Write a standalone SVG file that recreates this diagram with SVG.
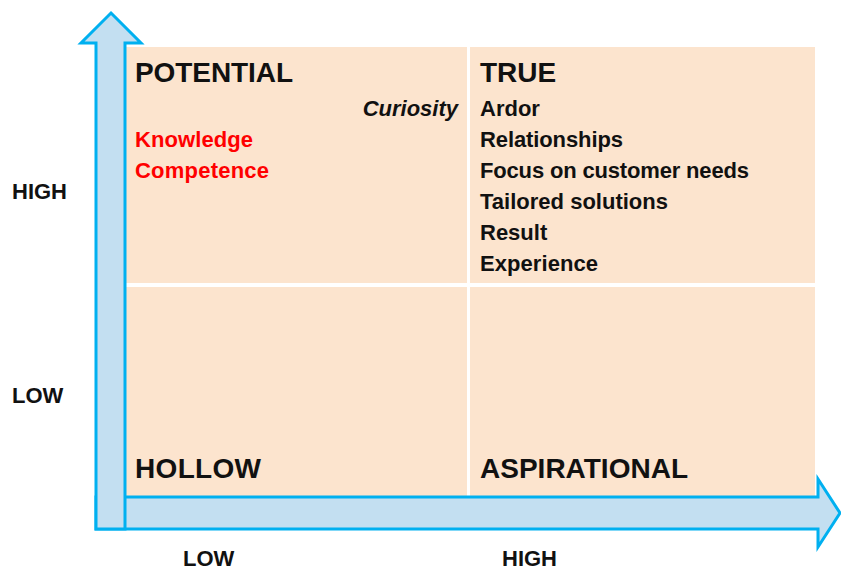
<svg xmlns="http://www.w3.org/2000/svg" width="841" height="572" viewBox="0 0 841 572">
<style>
.q{fill:#FCE4CE}
.ax{fill:#C3DFF1;stroke:#00B0F0;stroke-width:3;stroke-linejoin:miter}
text{font-family:"Liberation Sans",Arial,sans-serif;font-weight:bold;fill:#111}
.t{font-size:28px}
.i{font-size:22px}
.r{fill:#FF0000}
.it{font-style:italic}
</style>
<rect width="841" height="572" fill="#fff"/>
<g id="quadrant-potential">
<rect class="q" x="126" y="47" width="341" height="236"/>
<text class="t" x="135" y="82" textLength="158">POTENTIAL</text>
<text class="i it" x="458" y="116" text-anchor="end">Curiosity</text>
<text class="i r" x="135" y="147" textLength="118">Knowledge</text>
<text class="i r" x="135" y="178" textLength="134">Competence</text>
</g>
<g id="quadrant-true">
<rect class="q" x="470" y="47" width="345" height="236"/>
<text class="t" x="480" y="82">TRUE</text>
<text class="i" x="480" y="116">Ardor</text>
<text class="i" x="480" y="147" textLength="143">Relationships</text>
<text class="i" x="480" y="178" textLength="269">Focus on customer needs</text>
<text class="i" x="480" y="209" textLength="188">Tailored solutions</text>
<text class="i" x="480" y="240">Result</text>
<text class="i" x="480" y="271" textLength="118">Experience</text>
</g>
<g id="quadrant-hollow">
<rect class="q" x="126" y="287" width="341" height="209"/>
<text class="t" x="135" y="478" textLength="126">HOLLOW</text>
</g>
<g id="quadrant-aspirational">
<rect class="q" x="470" y="287" width="345" height="209"/>
<text class="t" x="480" y="478" textLength="208">ASPIRATIONAL</text>
</g>
<g id="connectors">
<polygon id="x-axis" class="ax" points="96,497 818,497 818,479 840,513 818,547 818,529 96,529"/>
<polygon id="y-axis" class="ax" points="111,13 141,43 125,43 125,529 96,529 96,43 81,43"/>
</g>
<g id="labels">
<text class="i" x="12" y="199">HIGH</text>
<text class="i" x="12" y="403">LOW</text>
<text class="i" x="183" y="566">LOW</text>
<text class="i" x="502" y="566">HIGH</text>
</g>
</svg>
